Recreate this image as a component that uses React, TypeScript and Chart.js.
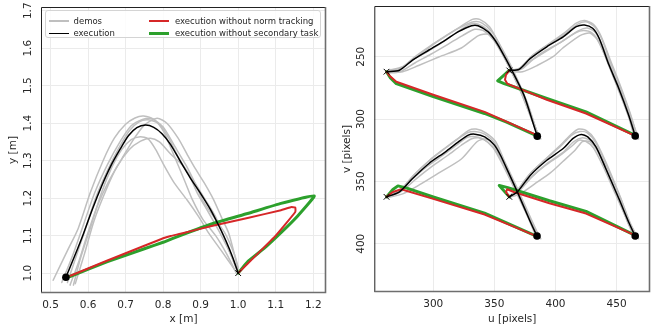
import React, { useEffect, useRef } from "react";
import { Chart, registerables } from "chart.js";
Chart.register(...registerables);

type P = [number, number];

// ---------- colours ----------
const DEMO_COLOR = "#bfbfbf";
const EXEC_COLOR = "#000000";
const RED = "#d62728";
const GREEN = "#2ca02c";

// ---------- left panel (metres) ----------
const LEFT_X_TICKS = [0.5, 0.6, 0.7, 0.8, 0.9, 1.0, 1.1, 1.2];
const LEFT_Y_TICKS = [1.0, 1.1, 1.2, 1.3, 1.4, 1.5, 1.6, 1.7];
const LEFT_X_RANGE = [0.4746, 1.234];
const LEFT_Y_RANGE = [0.947, 1.71];

const LEFT_DEMO_1: P[] = [[0.507,0.981],[0.545,1.06],[0.574,1.12],[0.606,1.215],[0.64,1.3],[0.67,1.36],[0.7,1.397],[0.725,1.414],[0.748,1.419],[0.775,1.41],[0.8,1.38],[0.82,1.335],[0.84,1.288],[0.86,1.24],[0.877,1.198],[0.905,1.145],[0.94,1.1],[0.97,1.05],[0.995,1.0]];
const LEFT_DEMO_2: P[] = [[0.552,0.968],[0.575,1.03],[0.597,1.1],[0.625,1.18],[0.655,1.245],[0.69,1.305],[0.72,1.355],[0.75,1.395],[0.784,1.413],[0.81,1.4],[0.84,1.36],[0.865,1.315],[0.885,1.28],[0.91,1.24],[0.935,1.195],[0.955,1.15],[0.975,1.106],[0.99,1.05],[1.0,1.01]];
const LEFT_DEMO_3: P[] = [[0.561,0.968],[0.58,1.04],[0.606,1.12],[0.636,1.215],[0.664,1.284],[0.69,1.33],[0.715,1.356],[0.739,1.364],[0.76,1.358],[0.78,1.33],[0.801,1.29],[0.83,1.24],[0.864,1.195],[0.895,1.15],[0.922,1.106],[0.955,1.06],[0.99,1.01]];
const LEFT_DEMO_4: P[] = [[0.566,0.972],[0.59,1.05],[0.616,1.14],[0.648,1.222],[0.677,1.284],[0.71,1.33],[0.74,1.352],[0.766,1.36],[0.79,1.35],[0.82,1.318],[0.855,1.284],[0.885,1.24],[0.913,1.195],[0.94,1.15],[0.958,1.106],[0.98,1.05],[1.0,1.0]];
const LEFT_DEMO_5: P[] = [[0.53,0.975],[0.56,1.05],[0.588,1.13],[0.618,1.215],[0.652,1.29],[0.685,1.35],[0.715,1.393],[0.745,1.41],[0.77,1.412],[0.8,1.39],[0.83,1.34],[0.862,1.286],[0.885,1.24],[0.905,1.195],[0.935,1.15],[0.965,1.106],[0.99,1.05],[1.0,1.015]];
const LEFT_DEMO_6: P[] = [[0.545,0.975],[0.57,1.05],[0.592,1.115],[0.62,1.2],[0.65,1.27],[0.68,1.33],[0.71,1.38],[0.735,1.403],[0.76,1.409],[0.79,1.398],[0.815,1.36],[0.84,1.31],[0.87,1.26],[0.893,1.21],[0.922,1.16],[0.95,1.11],[0.98,1.05],[1.0,1.0]];
const LEFT_DEMOS: P[][] = [LEFT_DEMO_1, LEFT_DEMO_2, LEFT_DEMO_3, LEFT_DEMO_4, LEFT_DEMO_5, LEFT_DEMO_6];

const LEFT_EXECUTION: P[] = [[0.541,0.989],[0.564,1.045],[0.588,1.106],[0.612,1.172],[0.636,1.232],[0.66,1.285],[0.685,1.33],[0.708,1.367],[0.73,1.388],[0.753,1.395],[0.775,1.389],[0.797,1.372],[0.82,1.343],[0.846,1.298],[0.873,1.253],[0.9,1.212],[0.927,1.168],[0.949,1.125],[0.967,1.087],[0.985,1.043],[1.0,1.0]];
const LEFT_NO_NORM: P[] = [[0.553,0.993],[0.65,1.033],[0.75,1.073],[0.8,1.093],[0.82,1.099],[0.846,1.105],[0.935,1.127],[1.025,1.147],[1.114,1.168],[1.14,1.176],[1.152,1.175],[1.152,1.163],[1.1,1.1],[1.05,1.05],[1.0,1.0]];
const LEFT_NO_SECONDARY: P[] = [[0.552,0.991],[0.65,1.03],[0.75,1.065],[0.802,1.083],[0.847,1.101],[0.935,1.133],[1.025,1.159],[1.114,1.186],[1.203,1.206],[1.158,1.152],[1.114,1.108],[1.069,1.066],[1.025,1.03],[1.0,1.0]];
const LEFT_START: P[] = [[0.541, 0.989]];
const LEFT_GOAL: P[] = [[1.0, 1.0]];

// ---------- right panel (pixels) ----------
const RIGHT_U_TICKS = [300, 350, 400, 450];
const RIGHT_V_TICKS = [250, 300, 350, 400];
const RIGHT_U_RANGE = [251.8, 477.3];
const RIGHT_V_RANGE = [209.3, 438.7];

const RIGHT_DEMOS_TL: P[][] = [
  [[262,262],[274,259],[285,250],[298,241],[311,233],[322,226],[332,220],[338,220],[346,226],[353,238],[358,248],[366,263],[376,285],[384,308],[387,315]],
  [[263,261],[275,258],[288,249],[300,240],[312,232],[323,226],[333,222],[340,223],[348,230],[356,243],[366,262],[377,287],[386,314]],
  [[262,263],[273,262],[285,255],[298,248],[312,240],[324,233],[334,228],[341,229],[349,236],[357,249],[367,268],[378,292],[387,316]],
  [[263,262],[275,262],[288,257],[305,250],[323,243],[337,233],[345,232],[352,240],[359,252],[369,272],[379,296],[385,312]],
  [[262,262],[272,260],[282,253],[295,246],[308,238],[320,230],[330,224],[337,224],[345,229],[352,239],[361,256],[372,279],[382,304],[388,316]],
];
const RIGHT_DEMOS_TR: P[][] = [
  [[362,261],[371,259],[381,249],[394,240],[407,231],[417,223],[424,221],[431,224],[437,233],[445,253],[453,273],[461,295],[467,315]],
  [[363,262],[372,260],[382,252],[395,244],[408,236],[419,229],[426,227],[432,230],[438,240],[446,260],[454,279],[462,300],[466,314]],
  [[362,262],[373,262],[385,257],[398,250],[406,243],[420,233],[428,231],[434,236],[440,248],[447,265],[455,284],[463,305],[467,316]],
  [[362,261],[370,260],[380,250],[393,241],[406,233],[418,224],[425,222],[432,226],[438,236],[446,257],[454,277],[462,299],[468,316]],
  [[363,261],[371,260],[380,253],[392,245],[405,238],[416,231],[423,229],[430,231],[436,239],[444,258],[452,278],[460,299],[464,313]],
];
const RIGHT_DEMOS_BL: P[][] = [
  [[262,362],[273,357],[284,345],[297,333],[310,323],[321,315],[329,309],[335,308],[343,311],[351,318],[358,333],[369,356],[380,380],[387,395]],
  [[263,362],[274,358],[286,348],[299,338],[312,329],[323,321],[331,316],[337,315],[344,318],[352,326],[360,342],[370,362],[381,385],[386,395]],
  [[262,363],[275,360],[290,352],[305,343],[323,332],[336,318],[343,316],[349,320],[356,332],[365,350],[376,373],[384,391]],
  [[262,362],[272,359],[282,349],[295,338],[308,329],[319,321],[327,315],[333,314],[341,316],[349,323],[357,337],[367,357],[378,380],[383,392]],
  [[263,361],[273,357],[283,346],[296,334],[309,324],[320,316],[328,311],[334,310],[342,312],[350,319],[359,337],[370,360],[382,386],[388,396]],
];
const RIGHT_DEMOS_BR: P[][] = [
  [[362,362],[369,357],[380,343],[393,331],[405,320],[413,312],[419,308],[425,309],[432,316],[441,334],[452,360],[461,383],[467,395]],
  [[363,362],[370,358],[381,346],[394,335],[407,326],[415,318],[422,315],[428,317],[435,326],[443,343],[453,366],[461,385],[465,394]],
  [[362,363],[371,360],[383,352],[396,343],[406,334],[416,325],[422,318],[428,318],[434,325],[442,342],[452,365],[460,385],[466,396]],
  [[362,362],[368,358],[378,345],[391,333],[404,322],[413,313],[420,310],[426,311],[433,319],[442,338],[453,363],[461,384],[468,396]],
  [[363,361],[370,357],[380,347],[392,337],[404,329],[413,322],[419,317],[425,318],[431,323],[439,338],[449,360],[458,380],[463,392]],
];

const RIGHT_EXEC_TL: P[] = [[261.8,262],[272.4,260.8],[283.1,252.7],[296.5,244.6],[310,236.6],[320.6,229.9],[331.3,225.1],[336.7,225.1],[344.7,229.9],[350,236],[355.4,244.6],[363.5,259.3],[374.2,280.8],[382.2,304.9],[385.1,313.7]];
const RIGHT_EXEC_TR: P[] = [[362.2,261],[370.2,260.1],[379.5,251.3],[392.9,242],[406.3,234],[417,225.9],[423.7,224.5],[430.4,227.2],[435.7,235.2],[443.8,256.7],[451.8,275.4],[459.8,296.8],[465.2,313.5]];
const RIGHT_EXEC_BL: P[] = [[261.8,362.4],[272.4,358.4],[283.1,347.7],[296.5,335.6],[310,326.3],[320.6,318.3],[328.7,312.9],[334.1,312.1],[342.1,314.3],[350.1,320.9],[355,329],[360,339.5],[368.8,358.4],[379.5,382.5],[384.9,393.8]];
const RIGHT_EXEC_BR: P[] = [[362.2,362.4],[368.8,358.4],[379.5,345],[392.9,333],[406.3,323.6],[414.4,315.5],[421,312.3],[426.4,314.3],[433.1,322.3],[441.1,339.6],[451.8,363.7],[459.8,382.5],[465.2,393.8]];

const RIGHT_NO_NORM_TL: P[] = [[261.8,262],[264.5,265.5],[269.8,270.1],[300,280.5],[342,294.2],[360,302],[383.5,312.3]];
const RIGHT_NO_NORM_TR: P[] = [[362.2,261],[359.5,264.5],[358.7,268.5],[360.5,271.5],[364,273],[392.9,284.5],[425,295.5],[463.9,312.9]];
const RIGHT_NO_NORM_BL: P[] = [[261.8,362.4],[267,358.5],[273.8,356.3],[300,364],[342,376.6],[383,393.3]];
const RIGHT_NO_NORM_BR: P[] = [[362.2,362.4],[359.5,358.5],[360.5,356.3],[366,358.5],[395,367.5],[425,375.8],[463.9,392.7]];

const RIGHT_NO_SEC_TL: P[] = [[261.8,262],[265,267],[269.8,271.5],[300,282],[342,295.5],[360,302.5],[383.5,312.8]];
const RIGHT_NO_SEC_TR: P[] = [[362.2,261],[352.7,269.3],[358,271.5],[361,272.5],[392.9,283.5],[425,294.2],[463.9,312.4]];
const RIGHT_NO_SEC_BL: P[] = [[261.8,362.4],[267,356.5],[271.1,353.6],[277.8,355.2],[300,362.5],[342,375.5],[383,393.3]];
const RIGHT_NO_SEC_BR: P[] = [[362.2,362.4],[354,353.2],[361,355],[369,357.5],[395,365.5],[425,374],[463.9,392.7]];

const RIGHT_STARTS: P[] = [[261.8,262],[362.2,261],[261.8,362.4],[362.2,362.4]];
const RIGHT_GOALS: P[] = [[385.1,313.7],[465.2,313.5],[384.9,393.8],[465.2,393.8]];

const LEGEND_ITEMS = [
  { label: "demos", color: DEMO_COLOR, width: 1.5, col: 0, row: 0 },
  { label: "execution", color: EXEC_COLOR, width: 1.5, col: 0, row: 1 },
  { label: "execution without norm tracking", color: RED, width: 2, col: 1, row: 0 },
  { label: "execution without secondary task", color: GREEN, width: 3, col: 1, row: 1 },
];

const FONT = "'DejaVu Sans', sans-serif";

// ---------- helpers ----------
const toXY = (pts: P[]) => pts.map(([x, y]) => ({ x, y }));

function lineDs(pts: P[], color: string, width: number, order: number, tension = 0.25) {
  return {
    data: toXY(pts),
    showLine: true,
    borderColor: color,
    backgroundColor: color,
    borderWidth: width,
    pointRadius: 0,
    pointHoverRadius: 0,
    tension,
    fill: false,
    order,
    borderCapStyle: "round" as const,
    borderJoinStyle: "round" as const,
  };
}

function dotDs(pts: P[], order: number) {
  return {
    data: toXY(pts),
    showLine: false,
    pointStyle: "circle" as const,
    pointRadius: 3.8,
    backgroundColor: "#000",
    borderColor: "#000",
    borderWidth: 0,
    order,
  };
}

function crossDs(pts: P[], order: number) {
  return {
    data: toXY(pts),
    showLine: false,
    pointStyle: "crossRot" as const,
    pointRadius: 4,
    backgroundColor: "#000",
    borderColor: "#000",
    borderWidth: 1,
    order,
  };
}

const framePlugin = {
  id: "frame",
  afterDraw(chart: any) {
    const { ctx, chartArea } = chart;
    const { left, top, right, bottom } = chartArea;
    ctx.save();
    ctx.strokeStyle = "#222";
    ctx.lineWidth = 1;
    ctx.beginPath();
    ctx.moveTo(left + 0.5, bottom);
    ctx.lineTo(left + 0.5, top + 0.5);
    ctx.lineTo(right, top + 0.5);
    ctx.stroke();
    ctx.strokeStyle = "#6e6e6e";
    ctx.lineWidth = 1.6;
    ctx.beginPath();
    ctx.moveTo(left, bottom - 0.5);
    ctx.lineTo(right - 0.5, bottom - 0.5);
    ctx.lineTo(right - 0.5, top);
    ctx.stroke();
    ctx.restore();
  },
};

function scales(
  xr: number[], yr: number[], xt: number[], yt: number[],
  xTitle: string, yTitle: string, xDec: number, yWidth: number, xHeight: number,
  reverseY: boolean, yTitlePad: number, yTickPad: number
) {
  const tickFont = { family: FONT, size: 10.5 };
  return {
    x: {
      type: "linear" as const,
      min: xr[0],
      max: xr[1],
      afterBuildTicks: (s: any) => { s.ticks = xt.map((v) => ({ value: v })); },
      afterFit: (s: any) => { s.height = xHeight; s.paddingLeft = 0; s.paddingRight = 0; },
      ticks: {
        font: tickFont, color: "#262626", padding: 5.5, maxRotation: 0, minRotation: 0,
        callback: (v: any) => Number(v).toFixed(xDec),
      },
      grid: { color: "#ebebeb", lineWidth: 1, drawTicks: false },
      border: { display: false },
      title: { display: true, text: xTitle, font: tickFont, color: "#262626", padding: { top: 0, bottom: 4.5 } },
    },
    y: {
      type: "linear" as const,
      min: yr[0],
      max: yr[1],
      reverse: reverseY,
      afterBuildTicks: (s: any) => { s.ticks = yt.map((v) => ({ value: v })); },
      afterFit: (s: any) => { s.width = yWidth; s.paddingTop = 0; s.paddingBottom = 0; },
      ticks: {
        font: tickFont, color: "#262626", padding: yTickPad, minRotation: 90, maxRotation: 90,
        crossAlign: "center" as const,
        callback: (v: any) => (reverseY ? String(Math.round(Number(v))) : Number(v).toFixed(1)),
      },
      grid: { color: "#ebebeb", lineWidth: 1, drawTicks: false },
      border: { display: false },
      title: { display: true, text: yTitle, font: tickFont, color: "#262626", padding: { top: yTitlePad, bottom: 0 } },
    },
  };
}

function baseOptions(sc: any, pad: any) {
  return {
    responsive: false,
    animation: false as const,
    events: [] as any[],
    layout: { padding: pad },
    plugins: { legend: { display: false }, tooltip: { enabled: false } },
    scales: sc,
  };
}

export default function App() {
  const leftRef = useRef<HTMLCanvasElement>(null);
  const rightRef = useRef<HTMLCanvasElement>(null);

  useEffect(() => {
    const leftDatasets: any[] = [
      ...LEFT_DEMOS.map((d) => lineDs(d, DEMO_COLOR, 1.5, 10)),
      lineDs(LEFT_NO_SECONDARY, GREEN, 3, 8, 0.1),
      lineDs(LEFT_NO_NORM, RED, 2, 7, 0.15),
      lineDs(LEFT_EXECUTION, EXEC_COLOR, 1.5, 6),
      dotDs(LEFT_START, 1),
      crossDs(LEFT_GOAL, 1),
    ];
    const left = new Chart(leftRef.current as HTMLCanvasElement, {
      type: "scatter",
      data: { datasets: leftDatasets },
      options: baseOptions(
        scales(LEFT_X_RANGE, LEFT_Y_RANGE, LEFT_X_TICKS, LEFT_Y_TICKS, "x [m]", "y [m]", 1, 41, 37, false, 6.7, 4.5),
        { left: 0, top: 7, right: 14, bottom: 0 }
      ) as any,
      plugins: [framePlugin],
    });

    const rightDatasets: any[] = [
      ...[...RIGHT_DEMOS_TL, ...RIGHT_DEMOS_TR, ...RIGHT_DEMOS_BL, ...RIGHT_DEMOS_BR].map((d) => lineDs(d, DEMO_COLOR, 1.5, 10)),
      ...[RIGHT_NO_SEC_TL, RIGHT_NO_SEC_TR, RIGHT_NO_SEC_BL, RIGHT_NO_SEC_BR].map((d) => lineDs(d, GREEN, 3, 8, 0)),
      ...[RIGHT_NO_NORM_TL, RIGHT_NO_NORM_TR, RIGHT_NO_NORM_BL, RIGHT_NO_NORM_BR].map((d) => lineDs(d, RED, 2, 7, 0)),
      ...[RIGHT_EXEC_TL, RIGHT_EXEC_TR, RIGHT_EXEC_BL, RIGHT_EXEC_BR].map((d) => lineDs(d, EXEC_COLOR, 1.5, 6)),
      dotDs(RIGHT_GOALS, 1),
      crossDs(RIGHT_STARTS, 1),
    ];
    const right = new Chart(rightRef.current as HTMLCanvasElement, {
      type: "scatter",
      data: { datasets: rightDatasets },
      options: baseOptions(
        scales(RIGHT_U_RANGE, RIGHT_V_RANGE, RIGHT_U_TICKS, RIGHT_V_TICKS, "u [pixels]", "v [pixels]", 0, 34.3, 38, true, 0.5, 3.5),
        { left: 0, top: 6, right: 0, bottom: 0 }
      ) as any,
      plugins: [framePlugin],
    });

    return () => {
      left.destroy();
      right.destroy();
    };
  }, []);

  return (
    <div style={{ position: "fixed", left: 0, top: 0, width: 655, height: 330, background: "#fff", overflow: "hidden" }}>
      <canvas ref={leftRef} width={340} height={330} style={{ position: "absolute", left: 0, top: 0, width: 340, height: 330 }} />
      <canvas ref={rightRef} width={315} height={330} style={{ position: "absolute", left: 340, top: 0, width: 315, height: 330 }} />
      <div
        style={{
          position: "absolute", left: 45, top: 10, width: 276, height: 28,
          border: "1px solid #d4d4d4", borderRadius: 3, background: "rgba(255,255,255,0.85)",
          fontFamily: FONT, fontSize: 8.5, color: "#262626", boxSizing: "border-box",
        }}
      >
        {LEGEND_ITEMS.map((it) => (
          <div key={it.label} style={{ position: "absolute", left: it.col === 0 ? 2.5 : 102.5, top: it.row === 0 ? 4 : 16.3, height: 12, display: "flex", alignItems: "center", whiteSpace: "nowrap" }}>
            <span style={{ display: "inline-block", width: 20, height: it.width, background: it.color, marginRight: it.col === 0 ? 5 : 6.5 }} />
            <span style={{ lineHeight: "12px" }}>{it.label}</span>
          </div>
        ))}
      </div>
    </div>
  );
}
